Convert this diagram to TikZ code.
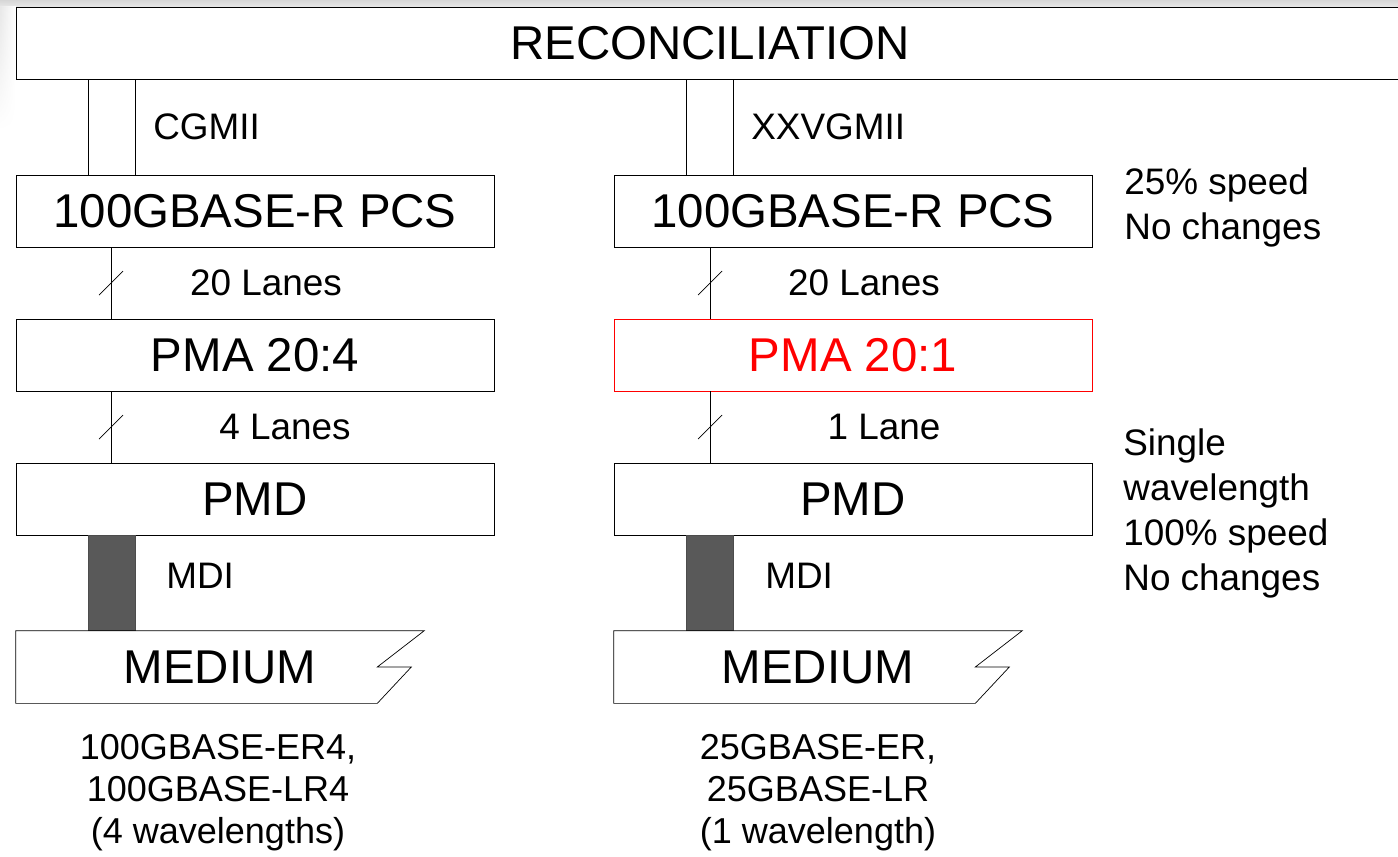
\documentclass[tikz,border=0pt]{standalone}
\usepackage{fontspec}
\setmainfont{Liberation Sans}
\usetikzlibrary{positioning,calc,fadings}
\definecolor{mdigray}{HTML}{595959}
\definecolor{pmared}{HTML}{FF0000}
\tikzset{x=0.02cm,y=-0.02cm,
line width=0.6pt,
blk/.style={rectangle,draw,minimum width=9.56cm,minimum height=1.44cm,inner sep=0,font=\fontsize{27}{32}\selectfont},
med/.style={rectangle,minimum width=8.16cm,minimum height=1.44cm,inner sep=0,font=\fontsize{27}{32}\selectfont},
lbl/.style={font=\fontsize{21}{25}\selectfont,inner sep=0},
note/.style={font=\fontsize{21}{25.6}\selectfont,align=left,anchor=west,inner sep=0},
phy/.style={font=\fontsize{20.5}{23.9}\selectfont,align=center,inner sep=0},
mdi/.style={fill=mdigray,draw=black!70},
}
\begin{document}
\begin{tikzpicture}
\useasboundingbox (0,0) rectangle (1398,856);
\clip (0,0) rectangle (1398,856);
\shade[top color=gray!32,bottom color=gray!18] (0,0) rectangle (1398,7);
\shade[left color=gray!18,right color=white,path fading=south] (0,7) rectangle (16,130);

\node[blk,minimum width=27.76cm] (rec) at (710,43) {RECONCILIATION};
\node[blk] (pcsL) at (255,211) {100GBASE-R PCS};
\node[blk] (pmaL) at (255,355) {PMA 20:4};
\node[blk] (pmdL) at (255,499) {PMD};
\node[med] (medL) at (220,667) {MEDIUM};
\node[blk] (pcsR) at (853,211) {100GBASE-R PCS};
\node[blk,draw=pmared,text=pmared] (pmaR) at (853,355) {PMA 20:1};
\node[blk] (pmdR) at (853,499) {PMD};
\node[med] (medR) at (818,667) {MEDIUM};

\coordinate (cgL1) at (88,0);
\coordinate (cgL2) at (135,0);
\coordinate (tapL) at (111,0);
\coordinate (cgR1) at (686,0);
\coordinate (cgR2) at (733,0);
\coordinate (tapR) at (710,0);

% left column
\draw (rec.south -| cgL1) -- (pcsL.north -| cgL1);
\draw (rec.south -| cgL2) -- (pcsL.north -| cgL2);
\draw (pcsL.south -| tapL) -- coordinate (s1L) (pmaL.north -| tapL);
\draw ($(s1L)+(-12,12)$) -- ($(s1L)+(12,-12)$);
\draw (pmaL.south -| tapL) -- coordinate (s2L) (pmdL.north -| tapL);
\draw ($(s2L)+(-12,12)$) -- ($(s2L)+(12,-12)$);
\draw[mdi] (pmdL.south -| cgL1) rectangle (medL.north -| cgL2);
\draw (medL.north west) -- (medL.north east) -- ($(medL.east)+(-47,0)$)
  -- ($(medL.east)+(-13,0)$) -- ($(medL.south east)+(-47,0)$) -- (medL.south west) -- cycle;

% right column
\draw (rec.south -| cgR1) -- (pcsR.north -| cgR1);
\draw (rec.south -| cgR2) -- (pcsR.north -| cgR2);
\draw (pcsR.south -| tapR) -- coordinate (s1R) (pmaR.north -| tapR);
\draw ($(s1R)+(-12,12)$) -- ($(s1R)+(12,-12)$);
\draw (pmaR.south -| tapR) -- coordinate (s2R) (pmdR.north -| tapR);
\draw ($(s2R)+(-12,12)$) -- ($(s2R)+(12,-12)$);
\draw[mdi] (pmdR.south -| cgR1) rectangle (medR.north -| cgR2);
\draw (medR.north west) -- (medR.north east) -- ($(medR.east)+(-47,0)$)
  -- ($(medR.east)+(-13,0)$) -- ($(medR.south east)+(-47,0)$) -- (medR.south west) -- cycle;

\node[lbl,anchor=west] (cgmii) at (153,127) {CGMII};
\node[lbl] (lanesL1) at (266,283) {20 Lanes};
\node[lbl] (lanesL2) at (285,427) {4 Lanes};
\node[lbl,anchor=west] (mdiL) at (166,576) {MDI};
\node[phy] (phyL) at (218,793) {100GBASE-ER4,\\100GBASE-LR4\\(4 wavelengths)};

\node[lbl,anchor=west] (xxvgmii) at (751,127) {XXVGMII};
\node[lbl] (lanesR1) at (864,283) {20 Lanes};
\node[lbl] (lanesR2) at (884,427) {1 Lane};
\node[lbl,anchor=west] (mdiR) at (765,576) {MDI};
\node[phy] (phyR) at (818,793) {25GBASE-ER,\\25GBASE-LR\\(1 wavelength)};

\node[note] (note1) at (1124,207) {25\% speed\\No changes};
\node[note] (note2) at (1123,513) {Single\\wavelength\\100\% speed\\No changes};
\end{tikzpicture}
\end{document}
